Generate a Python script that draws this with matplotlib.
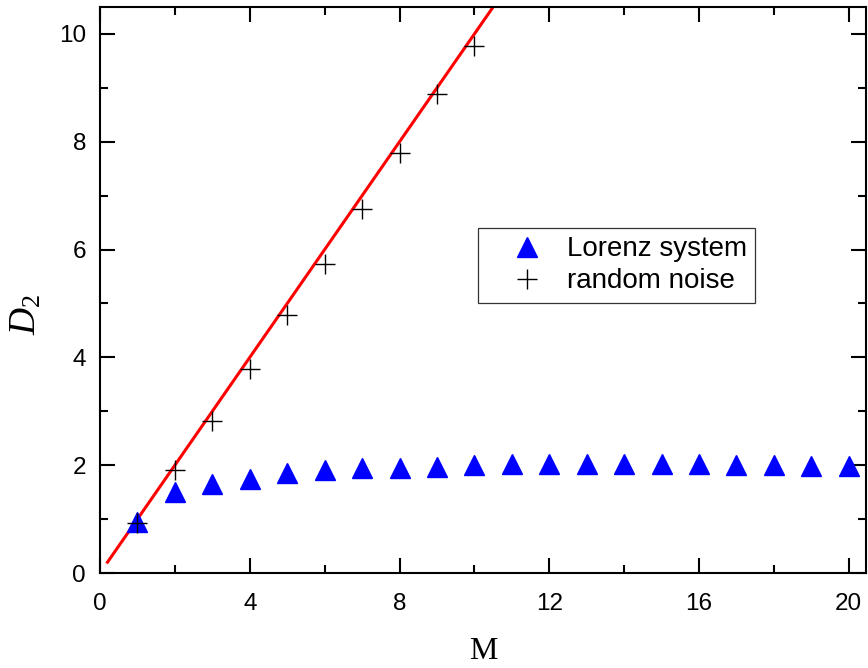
import numpy as np
import matplotlib
matplotlib.use("Agg")
import matplotlib.pyplot as plt
from matplotlib.ticker import MultipleLocator

M_lorenz = [1, 2, 3, 4, 5, 6, 7, 8, 9, 10, 11, 12, 13, 14, 15, 16, 17, 18, 19, 20]
D2_lorenz = [0.95, 1.5, 1.65, 1.75, 1.85, 1.92, 1.95, 1.95, 1.97, 2.0,
             2.02, 2.02, 2.02, 2.02, 2.03, 2.02, 2.0, 2.0, 1.99, 1.98]
M_noise = [1, 2, 3, 4, 5, 6, 7, 8, 9, 10]
D2_noise = [0.93, 1.91, 2.82, 3.79, 4.78, 5.74, 6.75, 7.79, 8.89, 9.77]
fit_x = [0.2, 11.0]
fit_slope = 1.0
fit_intercept = 0.0

plt.rcParams['font.family'] = ['Liberation Sans', 'DejaVu Sans']
plt.rcParams['mathtext.fontset'] = 'custom'
plt.rcParams['mathtext.it'] = 'Liberation Serif:italic'
plt.rcParams['mathtext.rm'] = 'Liberation Serif'

fig = plt.figure(figsize=(8.68, 6.68), dpi=100)
ax = fig.add_axes([0.1152, 0.1422, 0.9977 - 0.1152, 0.9895 - 0.1422])

fx = np.array(fit_x)
ax.plot(fx, fit_slope * fx + fit_intercept, color='red', lw=2.2, zorder=2)
ax.plot(M_lorenz, D2_lorenz, ls='none', marker='^', ms=15, color='#0000ff',
        mec='#0000ff', label='Lorenz system', zorder=3)
ax.plot(M_noise, D2_noise, ls='none', marker='+', ms=15, mew=1.0, color='black',
        label='random noise', zorder=4)

ax.set_xlim(0, 20.46)
ax.set_ylim(0, 10.5)
ax.xaxis.set_major_locator(MultipleLocator(4))
ax.xaxis.set_minor_locator(MultipleLocator(2))
ax.yaxis.set_major_locator(MultipleLocator(2))
ax.yaxis.set_minor_locator(MultipleLocator(1))
ax.tick_params(which='both', direction='in', top=True, right=True, width=1.5,
               labelsize=17.5)
ax.tick_params(axis='x', pad=14.5)
ax.tick_params(axis='y', pad=10)
ax.tick_params(which='major', length=11)
ax.tick_params(which='minor', length=6)
for s in ax.spines.values():
    s.set_linewidth(1.5)

ax.set_xlabel('M', family=['Liberation Serif'], fontsize=23)
ax.xaxis.set_label_coords(0.5, -0.113)
ax.set_ylabel(r'$D_2$', fontsize=27)
ax.yaxis.set_label_coords(-0.074, 0.456)

leg = ax.legend(loc='upper left', bbox_to_anchor=(0.4935, 0.6095), fontsize=20,
                frameon=True, fancybox=False, edgecolor='black',
                handlelength=2.9, handletextpad=0.0, borderpad=0.3,
                labelspacing=0.22, borderaxespad=0)
leg.get_frame().set_linewidth(0.9)

fig.savefig('out.png', dpi=100)
